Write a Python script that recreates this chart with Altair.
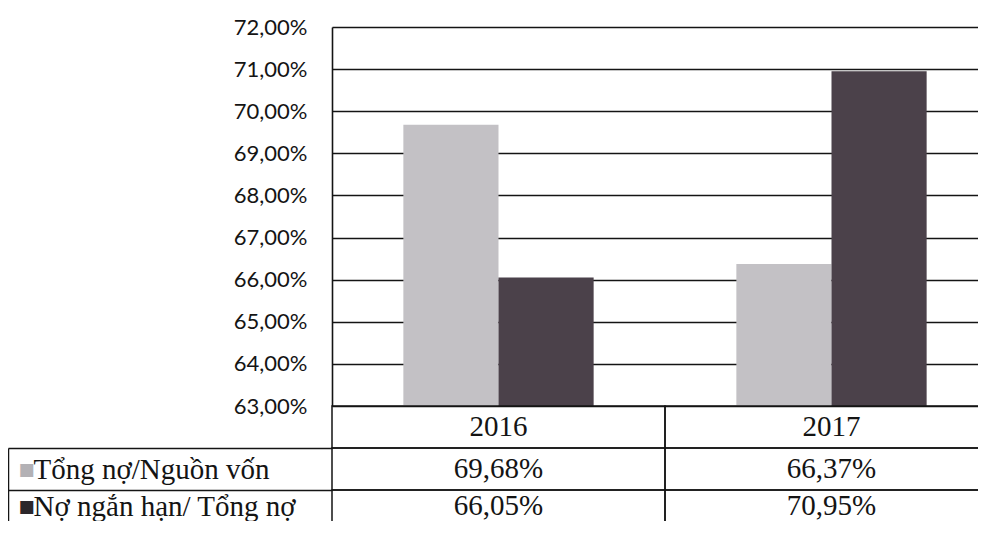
import altair as alt
import pandas as pd

# ---- data ----
years = ["2016", "2017"]
series = ["Tổng nợ/Nguồn vốn", "Nợ ngắn hạn/ Tổng nợ"]
tong_no_nguon_von = [69.68, 66.37]
no_ngan_han_tong_no = [66.05, 70.95]
y_ticks = [63, 64, 65, 66, 67, 68, 69, 70, 71, 72]

bar_colors = ["#c3c1c5", "#4b414a"]
key_colors = ["#b3b1b5", "#2c272b"]
ink = "#141414"

rows = []
for s, vals in zip(series, [tong_no_nguon_von, no_ngan_han_tong_no]):
    for yr, v in zip(years, vals):
        rows.append({"year": yr, "series": s, "value": v, "row": s,
                     "label": f"{v:.2f}".replace(".", ",") + "%"})
bars_df = pd.DataFrame(rows)
header_df = pd.DataFrame({"year": years, "row": ["hdr"] * len(years), "label": years})
table_df = pd.concat([header_df, bars_df[["year", "row", "label"]]], ignore_index=True)
key_df = pd.DataFrame({"row": series})

W = 646          # visible plot width (the category band runs past the right edge)
BAND_RANGE = 666
PLOT_H = 379     # bar panel height
ROW = 42         # table row height
H = 494          # whole drawing height (table is cut at the bottom)
LEFT = 324
LAST_DY = -5     # lift the cut-off last table row a little so its text stays readable
TXT = 29

x_scale = alt.Scale(domain=years, range=[0, BAND_RANGE], paddingInner=0, paddingOuter=0)

bars = alt.Chart(bars_df).mark_bar().encode(
    x=alt.X("year:N", sort=years, axis=None, scale=x_scale),
    xOffset=alt.XOffset("series:N", sort=series,
                        scale=alt.Scale(paddingInner=0, paddingOuter=0.75)),
    y=alt.Y("value:Q",
            scale=alt.Scale(domain=[63, 72], range=[PLOT_H, 0], nice=False, zero=False),
            axis=alt.Axis(orient="left", values=y_ticks, title=None,
                          labelExpr="replace(format(datum.value, '.2f'), '.', ',') + '%'",
                          grid=True, gridColor=ink, gridWidth=1.6,
                          domain=True, domainColor=ink, domainWidth=1.6,
                          ticks=False, labelPadding=25,
                          labelFont="Lato", labelFontSize=22, labelColor=ink)),
    y2=alt.Y2Datum(63),
    color=alt.Color("series:N", sort=series,
                    scale=alt.Scale(domain=series, range=bar_colors), legend=None),
)

table_y = alt.Scale(domain=["hdr"] + series, range=[PLOT_H, PLOT_H + 3 * ROW],
                    paddingInner=0, paddingOuter=0)

cells = alt.Chart(table_df).mark_rect(fill="transparent", stroke=ink, strokeWidth=1.5).encode(
    x=alt.X("year:N", sort=years, axis=None),
    y=alt.Y("row:N", sort=["hdr"] + series, scale=table_y, axis=None),
)
text_enc = dict(
    x=alt.X("year:N", sort=years, axis=None),
    y=alt.Y("row:N", sort=["hdr"] + series, scale=table_y, axis=None),
    text="label:N",
)
cell_text = alt.Chart(table_df).mark_text(
    font="Liberation Serif", fontSize=TXT, color=ink
).encode(**text_enc).transform_filter(alt.datum.row != series[1])
cell_text_last = alt.Chart(table_df).mark_text(
    font="Liberation Serif", fontSize=TXT, color=ink, dy=LAST_DY
).encode(**text_enc).transform_filter(alt.datum.row == series[1])
table = alt.layer(cells, cell_text, cell_text_last)

label_y = alt.Scale(domain=series, range=[PLOT_H + ROW, PLOT_H + 3 * ROW],
                    paddingInner=0, paddingOuter=0)
last_offset = {"condition": {"test": f"datum.value == '{series[1]}'", "value": LAST_DY},
               "value": 0}

row_labels = alt.Chart(key_df).mark_point(opacity=0).encode(
    y=alt.Y("row:N", sort=series, scale=label_y,
            axis=alt.Axis(orient="left", title=None,
                          labelAlign="left", labelPadding=-(LEFT - 299), labelLimit=0,
                          labelFont="Liberation Serif", labelFontSize=TXT, labelColor=ink,
                          labelOffset=last_offset,
                          ticks=True, tickSize=LEFT, tickBand="extent",
                          tickColor=ink, tickWidth=1.5,
                          grid=False, domain=False)),
)

keys = alt.Chart(key_df).mark_point(opacity=0).encode(
    y=alt.Y("row:N", sort=series, scale=label_y,
            axis=alt.Axis(orient="left", title=None, labelExpr="'■'",
                          labelColor={"condition": {"test": f"datum.value == '{series[0]}'",
                                                    "value": key_colors[0]},
                                      "value": key_colors[1]},
                          labelFont="DejaVu Sans", labelFontSize=17,
                          labelAlign="left", labelPadding=-10,
                          labelOffset=last_offset,
                          ticks=False, grid=False, offset=LEFT,
                          domain=True, domainColor=ink, domainWidth=1.5)),
)

chart = alt.layer(bars, table, row_labels, keys).resolve_scale(
    y="independent", color="independent"
).resolve_axis(y="independent").properties(
    width=W, height=H,
    autosize=alt.AutoSizeParams(type="none"),
    padding={"left": LEFT, "top": 19, "right": 0, "bottom": 0},
).configure_view(stroke=None)

chart.save("out.html", embed_options={"renderer": "svg", "actions": False})
